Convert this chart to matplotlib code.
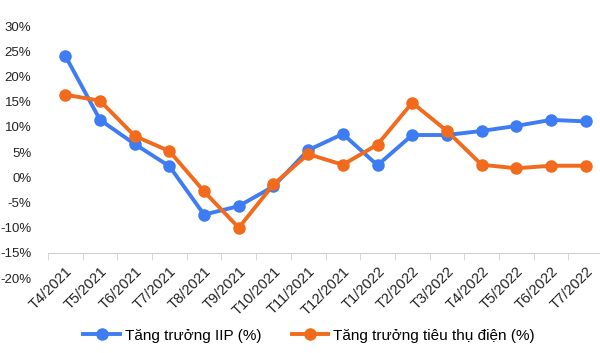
import numpy as np
import matplotlib.pyplot as plt

months = ['T4/2021', 'T5/2021', 'T6/2021', 'T7/2021', 'T8/2021', 'T9/2021',
          'T10/2021', 'T11/2021', 'T12/2021', 'T1/2022', 'T2/2022', 'T3/2022',
          'T4/2022', 'T5/2022', 'T6/2022', 'T7/2022']
iip = [24.1, 11.4, 6.6, 2.2, -7.4, -5.7, -1.8, 5.4, 8.6, 2.4, 8.4, 8.4, 9.2, 10.2, 11.4, 11.1]
dien = [16.4, 15.2, 8.2, 5.2, -2.8, -10.0, -1.4, 4.6, 2.5, 6.5, 14.8, 9.2, 2.5, 1.8, 2.3, 2.3]
yticks = [-20, -15, -10, -5, 0, 5, 10, 15, 20, 25, 30]

blue = '#3d7cf2'
orange = '#f26a1c'

plt.rcParams['font.family'] = ['Liberation Sans', 'DejaVu Sans']

fig = plt.figure(figsize=(6, 3.53), dpi=100)
ax = fig.add_axes([0.08, 0.212, 0.925, 0.714])

x = np.arange(len(months))
ax.plot(x, iip, color=blue, lw=2.8, marker='o', ms=8, label='Tăng trưởng IIP (%)')
ax.plot(x, dien, color=orange, lw=2.8, marker='o', ms=8, label='Tăng trưởng tiêu thụ điện (%)')

ax.set_xlim(-0.5, len(months) - 0.5)
ax.set_ylim(-20, 30)
ax.set_yticks(yticks)
ax.set_yticklabels([f'{v}%' for v in yticks], fontsize=9.5, color='#222222')
ax.tick_params(axis='y', length=0, pad=12)

# category axis sits at -15%
for s in ['top', 'right', 'left']:
    ax.spines[s].set_visible(False)
ax.spines['bottom'].set_position(('data', -15))
ax.spines['bottom'].set_color('#d0d0d0')
ax.set_xticks(x)
ax.set_xticklabels(months, rotation=45, ha='right', rotation_mode='anchor', fontsize=10.5, color='#222222')
ax.set_xticks(np.arange(-0.5, len(months)), minor=True)
ax.tick_params(axis='x', which='major', length=0, pad=8)
ax.tick_params(axis='x', which='minor', length=5, color='#d0d0d0', direction='out')

fig.legend(loc='lower center', ncol=2, frameon=False, fontsize=11,
           bbox_to_anchor=(0.515, -0.01), handlelength=2.4, handletextpad=0.3,
           columnspacing=2.0)

fig.savefig('out.png', dpi=100, facecolor='white')
